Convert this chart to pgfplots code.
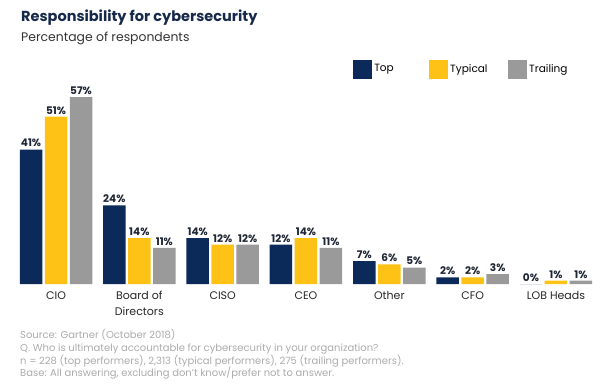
\documentclass[border=0pt]{standalone}
\usepackage{pgfplots}
\pgfplotsset{compat=1.18}
\usepackage{fontspec}
\setmainfont{Poppins}
\definecolor{cnavy}{HTML}{0B2A5A}
\definecolor{cyellow}{HTML}{FDC215}
\definecolor{cgray}{HTML}{9A9A9A}
\definecolor{ctitle}{HTML}{17294A}
\definecolor{cfoot}{HTML}{ABABAB}
\definecolor{clabel}{HTML}{1E2533}
\begin{document}
\begin{tikzpicture}
\useasboundingbox (0,0) rectangle (600bp,-388bp);
\node[anchor=base west, inner sep=0, font=\fontsize{14.5bp}{16bp}\selectfont\bfseries, text=ctitle] at (21bp,-21bp) {Responsibility for cybersecurity};
\node[anchor=base west, inner sep=0, font=\fontsize{12.4bp}{14bp}\selectfont, text=black!80] at (21bp,-41bp) {Percentage of respondents};
\begin{axis}[
  at={(56bp,-284bp)}, anchor=origin,
  x=83.33bp, y=3.28bp,
  xmin=-0.6, xmax=6.5, ymin=0, ymax=60,
  ybar=2.5bp, bar width=22.5bp,
  axis line style={draw=none},
  major tick length=0pt,
  ytick=\empty,
  xtick={0,1,2,3,4,5,6},
  xticklabels={CIO,{Board of\\Directors},CISO,CEO,Other,CFO,LOB Heads},
  xticklabel style={font=\fontsize{11bp}{16bp}\selectfont, align=center, anchor=north, yshift=-4bp, text=black!85},
  /pgf/number format/assume math mode=true,
  nodes near coords={\pgfmathprintnumber{\pgfplotspointmeta}\%},
  every node near coord/.append style={font=\fontsize{10.5bp}{11bp}\selectfont\bfseries, text=clabel, yshift=-1bp},
  legend columns=3,
  legend style={at={(0.5866,1.0925)}, anchor=west, draw=none, fill=none, inner sep=0pt,
    font=\fontsize{10.5bp}{12bp}\selectfont,
    /tikz/every even column/.append style={column sep=6bp}},
  legend image code/.code={\fill[#1,draw=none] (0bp,-9.5bp) rectangle (19bp,9.5bp);},
]
\addplot[fill=cnavy, draw=none] coordinates {(0,41) (1,24) (2,14) (3,12) (4,7) (5,2) (6,0)};
\addplot[fill=cyellow, draw=none] coordinates {(0,51) (1,14) (2,12) (3,14) (4,6) (5,2) (6,1)};
\addplot[fill=cgray, draw=none] coordinates {(0,57) (1,11) (2,12) (3,11) (4,5) (5,3) (6,1)};
\legend{\makebox[47bp][l]{Top},\makebox[50bp][l]{Typical},Trailing}
\end{axis}
\begin{scope}[every node/.style={anchor=base west, inner sep=0, font=\fontsize{10bp}{11bp}\selectfont, text=cfoot}]
\node at (20bp,-338bp) {Source: Gartner (October 2018)};
\node at (20bp,-351bp) {Q. Who is ultimately accountable for cybersecurity in your organization?};
\node at (20bp,-364bp) {n = 228 (top performers), 2,313 (typical performers), 275 (trailing performers).};
\node at (20bp,-376bp) {Base: All answering, excluding don't know/prefer not to answer.};
\end{scope}
\end{tikzpicture}
\end{document}
